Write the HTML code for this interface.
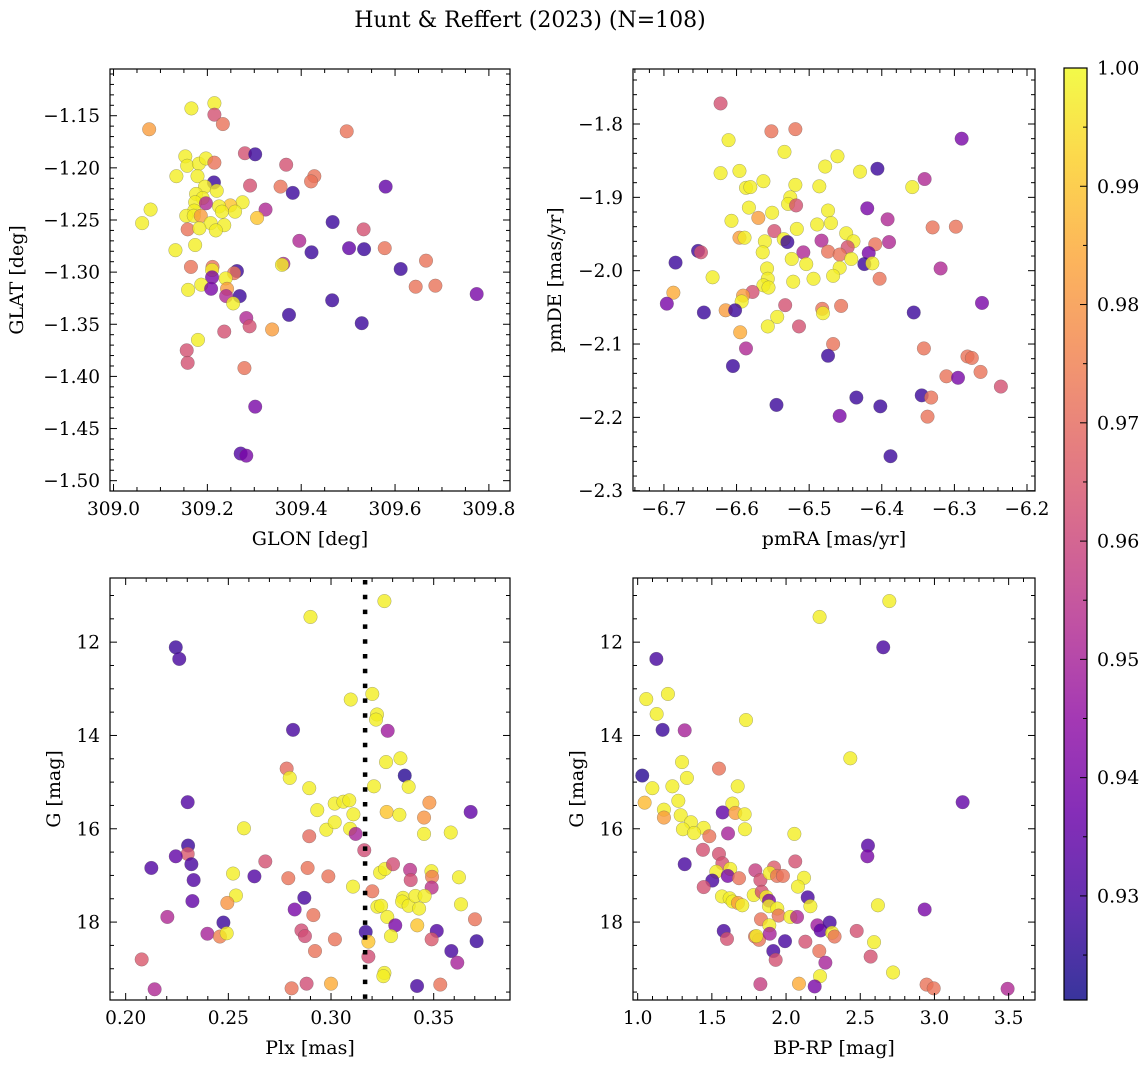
<!DOCTYPE html>
<html><head><meta charset="utf-8"><style>
body{margin:0;background:#fff}
svg{display:block;font-family:"DejaVu Serif","Liberation Serif",serif}
</style></head><body>
<svg id="fig" width="1148" height="1068" viewBox="0 0 1148 1068" xmlns="http://www.w3.org/2000/svg">
<rect width="1148" height="1068" fill="#fff"/>
<text x="530" y="27" font-size="22" text-anchor="middle">Hunt &amp; Reffert (2023) (N=108)</text>
<defs><linearGradient id="cbg" x1="0" y1="1" x2="0" y2="0"></linearGradient></defs>
</svg>
<script>
// ---- Panel 1 data: GLON / GLAT / membership probability
const glon=[309.076,309.166,309.215,309.215,309.233,309.497,309.280,309.302,309.153,309.157,309.182,309.197,309.215,309.368,309.428,309.421,309.134,309.179,309.214,309.195,309.220,309.291,309.356,309.382,309.580,309.176,309.190,309.174,309.197,309.275,309.249,309.225,309.079,309.324,309.172,309.231,309.259,309.155,309.171,309.186,309.306,309.061,309.207,309.236,309.158,309.183,309.218,309.467,309.533,309.174,309.396,309.132,309.422,309.502,309.534,309.578,309.165,309.211,309.210,309.210,309.263,309.257,309.362,309.359,309.666,309.612,309.159,309.187,309.208,309.239,309.242,309.240,309.269,309.255,309.644,309.686,309.774,309.466,309.374,309.529,309.283,309.290,309.236,309.338,309.180,309.156,309.158,309.279,309.302,309.271,309.283];
const glat=[-1.163,-1.143,-1.138,-1.149,-1.158,-1.165,-1.186,-1.187,-1.189,-1.198,-1.196,-1.191,-1.195,-1.197,-1.208,-1.213,-1.208,-1.208,-1.214,-1.218,-1.222,-1.217,-1.218,-1.224,-1.218,-1.225,-1.229,-1.233,-1.234,-1.233,-1.236,-1.237,-1.240,-1.240,-1.241,-1.242,-1.242,-1.246,-1.246,-1.246,-1.248,-1.253,-1.253,-1.255,-1.259,-1.258,-1.260,-1.252,-1.259,-1.274,-1.270,-1.279,-1.281,-1.277,-1.278,-1.277,-1.295,-1.295,-1.298,-1.305,-1.299,-1.301,-1.292,-1.293,-1.289,-1.297,-1.317,-1.312,-1.316,-1.306,-1.316,-1.323,-1.323,-1.330,-1.314,-1.313,-1.321,-1.327,-1.341,-1.349,-1.344,-1.352,-1.357,-1.355,-1.365,-1.375,-1.387,-1.392,-1.429,-1.474,-1.476];
const prob1=[.982,.998,.998,.963,.972,.972,.963,.928,.998,.998,.998,.998,.972,.963,.972,.972,.998,.998,.928,.998,.998,.963,.972,.928,.935,.998,.998,.998,.952,.998,.99,.998,.998,.952,.998,.998,.998,.998,.998,.982,.99,.998,.998,.998,.972,.998,.998,.928,.963,.998,.952,.998,.928,.935,.928,.972,.972,.972,.998,.94,.928,.972,.952,.998,.972,.928,.998,.998,.94,.998,.982,.952,.928,.998,.972,.972,.94,.928,.928,.928,.952,.963,.963,.982,.998,.963,.963,.972,.94,.932,.94];
// ---- Panel 2 data: pmRA / pmDE
const pmra=[-6.622,-6.552,-6.519,-6.611,-6.290,-6.534,-6.461,-6.478,-6.406,-6.430,-6.622,-6.596,-6.341,-6.563,-6.519,-6.486,-6.358,-6.587,-6.581,-6.526,-6.529,-6.518,-6.583,-6.420,-6.551,-6.474,-6.570,-6.607,-6.392,-6.489,-6.470,-6.330,-6.298,-6.517,-6.548,-6.449,-6.596,-6.589,-6.561,-6.535,-6.530,-6.483,-6.439,-6.409,-6.390,-6.447,-6.653,-6.649,-6.564,-6.508,-6.474,-6.458,-6.418,-6.684,-6.524,-6.442,-6.504,-6.424,-6.413,-6.319,-6.558,-6.458,-6.633,-6.467,-6.403,-6.522,-6.494,-6.557,-6.563,-6.556,-6.578,-6.687,-6.591,-6.593,-6.262,-6.696,-6.533,-6.456,-6.482,-6.481,-6.645,-6.615,-6.602,-6.356,-6.544,-6.557,-6.514,-6.595,-6.467,-6.587,-6.342,-6.474,-6.282,-6.276,-6.605,-6.264,-6.311,-6.295,-6.236,-6.435,-6.345,-6.332,-6.545,-6.402,-6.458,-6.337,-6.388];
const pmde=[-1.772,-1.810,-1.807,-1.822,-1.820,-1.838,-1.844,-1.858,-1.861,-1.865,-1.867,-1.864,-1.875,-1.878,-1.883,-1.885,-1.886,-1.887,-1.886,-1.900,-1.909,-1.911,-1.914,-1.915,-1.921,-1.918,-1.928,-1.932,-1.930,-1.937,-1.935,-1.941,-1.940,-1.943,-1.946,-1.949,-1.955,-1.955,-1.960,-1.957,-1.961,-1.959,-1.960,-1.964,-1.961,-1.968,-1.973,-1.975,-1.975,-1.975,-1.974,-1.978,-1.976,-1.989,-1.984,-1.984,-1.991,-1.991,-1.990,-1.997,-1.997,-1.996,-2.009,-2.007,-2.011,-2.015,-2.011,-2.011,-2.020,-2.023,-2.029,-2.030,-2.034,-2.042,-2.044,-2.045,-2.047,-2.048,-2.052,-2.058,-2.057,-2.054,-2.054,-2.057,-2.063,-2.076,-2.076,-2.084,-2.100,-2.106,-2.106,-2.116,-2.117,-2.119,-2.130,-2.138,-2.144,-2.146,-2.158,-2.173,-2.170,-2.173,-2.183,-2.185,-2.198,-2.199,-2.253];
const prob2=[.963,.972,.972,.998,.94,.998,.998,.998,.928,.998,.998,.998,.952,.998,.998,.998,.998,.998,.998,.998,.998,.963,.998,.94,.998,.998,.982,.998,.952,.998,.998,.972,.972,.998,.963,.998,.982,.998,.998,.998,.928,.952,.998,.972,.952,.963,.928,.963,.998,.952,.972,.972,.94,.928,.998,.998,.998,.928,.998,.952,.998,.998,.998,.998,.972,.998,.998,.998,.998,.998,.963,.985,.982,.998,.94,.94,.963,.972,.972,.998,.928,.982,.928,.928,.998,.998,.963,.985,.972,.952,.972,.928,.972,.972,.928,.972,.972,.94,.963,.928,.928,.972,.928,.928,.94,.972,.928];
// ---- Panel 3 data: Plx / G
const plx=[.326,.290,.2244,.2261,.3096,.3201,.3224,.3219,.2815,.3276,.2784,.2799,.2894,.3268,.3338,.3359,.3209,.3378,.2302,.3018,.3060,.3089,.2933,.3109,.3271,.3333,.3479,.3453,.3680,.2576,.2977,.3018,.3093,.3120,.2894,.3453,.3583,.2304,.2302,.2244,.3162,.2125,.2320,.2680,.2331,.2523,.2627,.2792,.2886,.2987,.3107,.3239,.3263,.3302,.3385,.3388,.3489,.3492,.3490,.3623,.2325,.2537,.2495,.2870,.3201,.3226,.3244,.3351,.3346,.3378,.3411,.3456,.3429,.3633,.2203,.2476,.2823,.2914,.3274,.3313,.3420,.3701,.2398,.2459,.2492,.2856,.2873,.3019,.3169,.3182,.3292,.3515,.3490,.3709,.2078,.2922,.3182,.3586,.3615,.3260,.3255,.2141,.2808,.2881,.3000,.3419,.3532];
const gmag3=[11.12,11.46,12.11,12.36,13.23,13.11,13.55,13.66,13.88,13.90,14.71,14.91,15.13,14.57,14.49,14.86,15.09,15.10,15.43,15.46,15.42,15.39,15.60,15.69,15.64,15.70,15.44,15.76,15.64,15.99,16.02,15.86,16.00,16.11,16.16,16.11,16.08,16.36,16.54,16.59,16.46,16.84,16.76,16.70,17.10,16.96,17.02,17.06,16.84,17.02,17.24,16.94,16.86,16.76,16.88,17.10,16.91,17.03,17.26,17.04,17.55,17.43,17.59,17.48,17.34,17.67,17.65,17.48,17.56,17.65,17.44,17.44,17.71,17.62,17.89,18.01,17.73,17.85,17.89,18.07,18.07,17.94,18.25,18.31,18.24,18.18,18.30,18.37,18.21,18.42,18.30,18.19,18.37,18.41,18.80,18.62,18.74,18.62,18.87,19.09,19.16,19.44,19.42,19.32,19.32,19.37,19.34];
const prob3=[.998,.998,.928,.93,.998,.998,.998,.998,.93,.948,.97,.998,.998,.998,.998,.925,.998,.998,.932,.998,.998,.998,.998,.998,.99,.998,.98,.98,.935,.998,.998,.998,.998,.95,.97,.998,.998,.928,.965,.935,.962,.932,.93,.963,.932,.998,.932,.972,.972,.972,.998,.998,.998,.962,.955,.962,.998,.975,.955,.998,.935,.998,.98,.93,.972,.998,.998,.998,.998,.998,.998,.998,.998,.998,.952,.928,.94,.972,.998,.94,.99,.972,.95,.975,.998,.962,.962,.972,.928,.99,.998,.932,.965,.928,.965,.972,.962,.93,.95,.998,.998,.952,.972,.962,.985,.93,.972];
// ---- Panel 4 data: BP-RP / G
const bprp=[2.696,2.226,2.655,1.126,1.058,1.204,1.128,1.730,1.168,1.317,2.433,1.299,1.548,1.031,1.332,1.099,1.234,1.674,3.190,1.047,1.274,1.638,1.177,1.573,1.658,1.721,1.177,1.290,1.359,1.445,1.305,1.380,1.723,1.483,1.609,2.056,2.552,2.548,1.440,1.548,2.062,1.317,1.571,1.624,1.793,1.919,1.530,1.607,1.503,1.683,1.827,1.890,1.939,1.979,2.121,1.445,2.080,1.568,1.620,1.640,1.676,1.705,1.782,1.836,1.867,1.885,1.885,1.941,1.950,2.146,2.164,2.619,2.934,1.831,2.029,2.074,1.887,2.211,2.233,2.294,2.310,2.327,2.476,1.580,1.602,1.791,1.818,1.800,1.890,1.993,2.130,2.593,1.914,1.930,2.224,2.265,2.570,2.721,2.229,1.827,2.087,2.193,2.947,2.995,3.493];
const gmag4=[11.12,11.46,12.11,12.36,13.22,13.11,13.54,13.67,13.88,13.89,14.49,14.57,14.71,14.86,14.91,15.13,15.09,15.09,15.43,15.44,15.40,15.46,15.59,15.65,15.66,15.69,15.76,15.71,15.86,15.98,16.01,16.09,16.01,16.16,16.10,16.11,16.36,16.59,16.45,16.54,16.70,16.76,16.74,16.86,16.89,16.83,16.92,17.01,17.11,17.06,17.10,16.95,17.01,17.01,17.05,17.25,17.24,17.45,17.49,17.56,17.59,17.64,17.42,17.35,17.46,17.54,17.66,17.71,17.86,17.47,17.66,17.64,17.73,17.94,17.89,17.89,18.07,18.07,18.18,18.01,18.23,18.31,18.19,18.19,18.36,18.31,18.38,18.30,18.25,18.41,18.42,18.43,18.62,18.81,18.62,18.87,18.74,19.08,19.16,19.33,19.32,19.38,19.34,19.42,19.43];
const prob4=[.998,.998,.93,.93,.998,.998,.998,.998,.928,.95,.998,.998,.972,.925,.998,.998,.998,.998,.935,.988,.998,.998,.998,.935,.982,.998,.982,.998,.998,.998,.998,.998,.998,.972,.95,.998,.933,.94,.963,.963,.963,.93,.963,.998,.958,.966,.998,.94,.93,.972,.963,.998,.972,.972,.998,.963,.998,.998,.998,.998,.982,.998,.998,.963,.998,.94,.998,.998,.972,.93,.998,.998,.94,.972,.998,.952,.998,.948,.935,.93,.998,.972,.963,.93,.963,.972,.972,.998,.95,.93,.963,.998,.93,.963,.972,.95,.963,.998,.998,.958,.985,.94,.972,.972,.952];
// ---- shared tick values
const cbarTicks=[0.93,0.94,0.95,0.96,0.97,0.98,0.99,1.00];
const VMIN=0.9212, VMAX=1.0;

const NS='http://www.w3.org/2000/svg';
const svg=document.getElementById('fig');
function mk(tag,attrs,parent){const e=document.createElementNS(NS,tag);for(const k in attrs)e.setAttribute(k,attrs[k]);(parent||svg).appendChild(e);return e;}
const PL=[[13,8,135],[65,4,157],[106,0,168],[143,13,164],[177,42,144],[204,71,120],[225,100,98],[242,132,75],[252,166,54],[252,206,37],[240,249,33]];
function plasma(t){t=Math.max(0,Math.min(1,t))*10;const i=Math.min(9,Math.floor(t)),f=t-i;const a=PL[i],b=PL[i+1];return 'rgb('+a.map((v,k)=>Math.round(v+(b[k]-v)*f)).join(',')+')';}
function col(p){return plasma((p-VMIN)/(VMAX-VMIN));}
function fmt(v,d){const s=v.toFixed(d);return v<0?'\u2212'+s.slice(1):s;}

function panel(o){
  const {x0,y0,x1,y1,xd,yd,inv}=o;
  const sx=v=>x0+(v-xd[0])/(xd[1]-xd[0])*(x1-x0);
  const sy=inv?(v=>y0+(v-yd[0])/(yd[1]-yd[0])*(y1-y0)):(v=>y1-(v-yd[0])/(yd[1]-yd[0])*(y1-y0));
  const g=mk('g',{});
  
  
  const pg=mk('g',{},g);
  
  
  for(let i=0;i<o.xs.length;i++){
    const c=mk('circle',{cx:sx(o.xs[i]),cy:sy(o.ys[i]),r:6.8,fill:col(o.ps[i]),'fill-opacity':0.8,stroke:'#555','stroke-opacity':0.5,'stroke-width':0.5},pg);
    
    
  }
  if(o.extra)o.extra(g,sx,sy);
  const fr=mk('rect',{x:x0,y:y0,width:x1-x0,height:y1-y0,fill:'none',stroke:'#000','stroke-width':1.2},g);
  
  
  const eps=1e-9;
  for(let v=Math.ceil(xd[0]/o.xmin-eps)*o.xmin;v<=xd[1]+eps;v+=o.xmin){
    const X=sx(v);const isMaj=Math.abs(v/o.xmaj-Math.round(v/o.xmaj))<1e-4;const L=isMaj?7:4;
    mk('line',{x1:X,x2:X,y1:y1,y2:y1-L,stroke:'#000','stroke-width':1},g);
    mk('line',{x1:X,x2:X,y1:y0,y2:y0+L,stroke:'#000','stroke-width':1},g);
  }
  for(const v of o.xt){const t=mk('text',{x:sx(v),y:y1+24,'font-size':18.5,'text-anchor':'middle'},g);t.textContent=fmt(v,o.xdp);
    }
  for(let v=Math.ceil(Math.min(...yd)/o.ymin-eps)*o.ymin;v<=Math.max(...yd)+eps;v+=o.ymin){
    const Y=sy(v);const isMaj=Math.abs(v/o.ymaj-Math.round(v/o.ymaj))<1e-4;const L=isMaj?7:4;
    mk('line',{x1:x0,x2:x0+L,y1:Y,y2:Y,stroke:'#000','stroke-width':1},g);
    mk('line',{x1:x1,x2:x1-L,y1:Y,y2:Y,stroke:'#000','stroke-width':1},g);
  }
  for(const v of o.yt){const t=mk('text',{x:x0-10,y:sy(v)+6.5,'font-size':18.5,'text-anchor':'end'},g);t.textContent=fmt(v,o.ydp);
    }
  const xl=mk('text',{x:(x0+x1)/2,y:y1+54,'font-size':19,'text-anchor':'middle'},g);xl.textContent=o.xlab;
  
  const yc=(y0+y1)/2;
  const yl=mk('text',{x:o.ylx,y:yc,'font-size':19,'text-anchor':'middle',transform:`rotate(-90 ${o.ylx} ${yc})`},g);yl.textContent=o.ylab;
  
}

panel({name:'glon-glat-panel',x0:110,y0:69,x1:510,y1:491,xd:[308.9925,309.845],yd:[-1.5099,-1.1052],xs:glon,ys:glat,ps:prob1,
  xmin:0.05,xmaj:0.2,ymin:0.01,ymaj:0.05,xt:[309.0,309.2,309.4,309.6,309.8],xdp:1,yt:[-1.15,-1.2,-1.25,-1.3,-1.35,-1.4,-1.45,-1.5],ydp:2,
  xlab:'GLON [deg]',ylab:'GLAT [deg]',ylx:23});
panel({name:'pm-panel',x0:633,y0:69,x1:1035,y1:491,xd:[-6.7426,-6.189],yd:[-2.3004,-1.725],xs:pmra,ys:pmde,ps:prob2,
  xmin:0.02,xmaj:0.1,ymin:0.02,ymaj:0.1,xt:[-6.7,-6.6,-6.5,-6.4,-6.3,-6.2],xdp:1,yt:[-1.8,-1.9,-2.0,-2.1,-2.2,-2.3],ydp:1,
  xlab:'pmRA [mas/yr]',ylab:'pmDE [mas/yr]',ylx:561});
panel({name:'plx-g-panel',x0:110,y0:578,x1:510,y1:1000,xd:[0.19237,0.38716],yd:[10.625,19.67],inv:true,xs:plx,ys:gmag3,ps:prob3,
  xmin:0.01,xmaj:0.05,ymin:0.5,ymaj:2,xt:[0.20,0.25,0.30,0.35],xdp:2,yt:[12,14,16,18],ydp:0,
  xlab:'Plx [mas]',ylab:'G [mag]',ylx:60,
  extra:(g,sx,sy)=>{const l=mk('line',{x1:sx(0.3166),x2:sx(0.3166),y1:580,y2:1000,stroke:'#000','stroke-width':4.5,'stroke-dasharray':'4.5 10.3'},g);
    }});
panel({name:'cmd-panel',x0:633,y0:578,x1:1035,y1:1000,xd:[0.9686,3.6776],yd:[10.625,19.67],inv:true,xs:bprp,ys:gmag4,ps:prob4,
  xmin:0.1,xmaj:0.5,ymin:0.5,ymaj:2,xt:[1.0,1.5,2.0,2.5,3.0,3.5],xdp:1,yt:[12,14,16,18],ydp:0,
  xlab:'BP-RP [mag]',ylab:'G [mag]',ylx:583});

const grad=document.getElementById('cbg');
for(let i=0;i<=20;i++){mk('stop',{offset:(i/20),'stop-color':plasma(i/20),'stop-opacity':0.82},grad);}
const cy0=68,cy1=1000;
const cbs=v=>cy1-(v-VMIN)/(VMAX-VMIN)*(cy1-cy0);
const cb=mk('rect',{x:1064,y:cy0,width:23,height:cy1-cy0,fill:'url(#cbg)',stroke:'#000','stroke-width':1.2});


for(let v=0.925;v<=1.0001;v+=0.005){const Y=cbs(v);const maj=Math.abs(v*100-Math.round(v*100))<1e-3;
  mk('line',{x1:1087,x2:1087-(maj?7:4),y1:Y,y2:Y,stroke:'#000','stroke-width':1});}
for(const v of cbarTicks){const t=mk('text',{x:1097,y:cbs(v)+6.5,'font-size':19},svg);t.textContent=v.toFixed(2);
  }
</script>
</body></html>
